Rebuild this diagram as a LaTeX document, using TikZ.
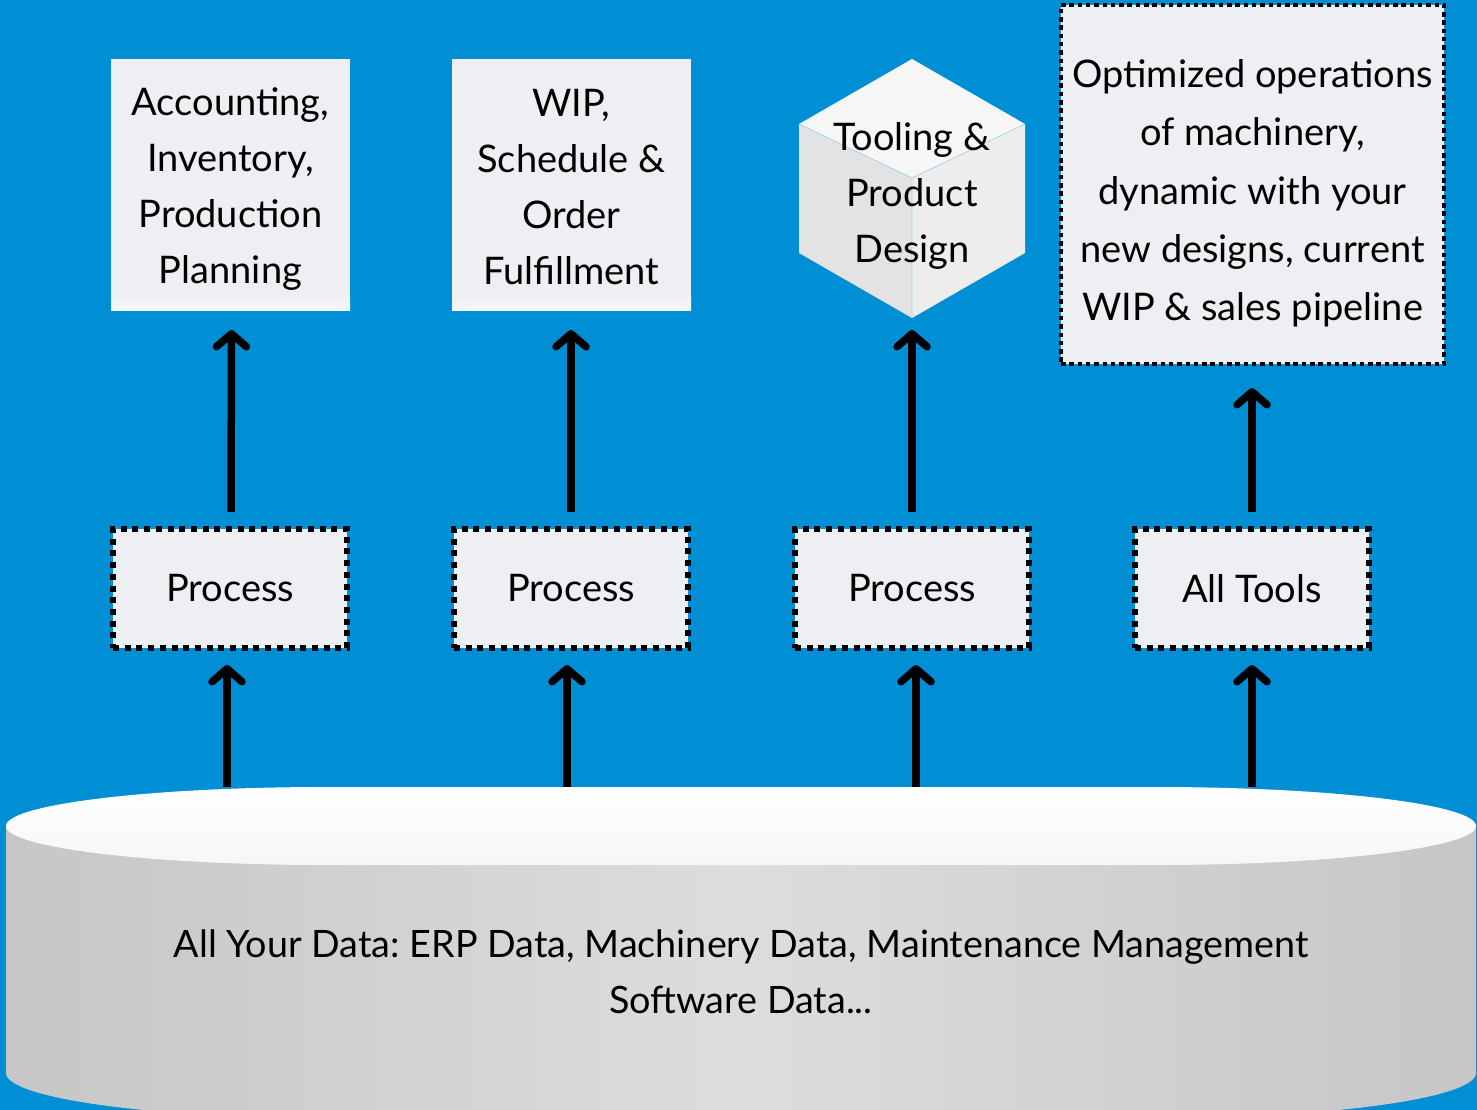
\documentclass[tikz,border=0pt]{standalone}
\usepackage{fontspec}
\setmainfont{Lato}
\usetikzlibrary{arrows.meta}
\frenchspacing
\definecolor{bluebg}{RGB}{0,142,213}
\definecolor{panel}{HTML}{EDEFF2}
\definecolor{panelfoot}{HTML}{F7F8F9}
\definecolor{cubetop}{HTML}{F6F6F6}
\definecolor{cubeleft}{HTML}{E3E3E3}
\definecolor{cuberight}{HTML}{EDEDED}
\definecolor{cubeedge}{HTML}{A6D6EF}
\definecolor{drumside}{HTML}{C6C6C6}
\definecolor{drummid}{HTML}{DDDDDD}
\definecolor{drumtop}{HTML}{F5F6F6}
\begin{document}
\begin{tikzpicture}[x=1pt,y=-1pt,
  bigtext/.style={font=\fontsize{38}{56}\selectfont, align=center, text=black},
  card/.style={fill=panel, inner sep=0pt, outer sep=0pt,
    minimum width=239pt, minimum height=251pt},
  procbox/.style={bigtext, fill=panel, draw=black, line width=6pt,
    dash pattern=on 6pt off 5.7pt, inner sep=0pt, outer sep=0pt,
    minimum width=234pt, minimum height=119pt},
  goalbox/.style={fill=panel, draw=black, line width=4.5pt,
    dash pattern=on 4.5pt off 3.8pt,
    inner sep=0pt, outer sep=0pt, minimum width=383pt, minimum height=359pt},
  arr/.style={line width=7.5pt, -{Straight Barb[round,length=13pt,width=30pt]}}
]
% canvas
\fill[bluebg] (0,0) rectangle (1477,1110);
\useasboundingbox (0,0) rectangle (1477,1110);

% data drum: side wall
\shade[left color=drumside, right color=drumside, middle color=drummid]
  (6,826) -- (6,1073)
  .. controls (6,1097.9) and (149.3,1118) .. (326,1118)
  -- (1156,1118)
  .. controls (1332.7,1118) and (1476,1097.9) .. (1476,1073)
  -- (1476,826) -- cycle;
% data drum: lid
\shade[top color=white, bottom color=drumtop]
  (6,826) .. controls (6,804.5) and (149.3,787) .. (326,787)
  -- (1156,787)
  .. controls (1332.7,787) and (1476,804.5) .. (1476,826)
  .. controls (1476,847.5) and (1332.7,865) .. (1156,865)
  -- (326,865)
  .. controls (149.3,865) and (6,847.5) .. (6,826) -- cycle;
\node[bigtext, font=\fontsize{37.7}{56}\selectfont] (data) at (741,972)
  {All Your Data: ERP Data, Machinery Data, Maintenance Management\\Software Data...};
\coordinate (d1) at (227,787);
\coordinate (d2) at (567,787);
\coordinate (d3) at (916,787);
\coordinate (d4) at (1252,787);

% process row
\node[procbox] (p1) at (230,588.5) {Process};
\node[procbox] (p2) at (571,588.5) {Process};
\node[procbox] (p3) at (912,588.5) {Process};
\node[procbox] (p4) at (1252,588.5) {All Tools};

% outcome row: plain cards with a soft lighter foot
\node[card] (b1) at (230.5,184.5) {};
\shade[top color=panel, bottom color=panelfoot]
  ([yshift=14pt]b1.south west) rectangle (b1.south east);
\node[bigtext] (b1text) at ([yshift=-5pt]b1.center)
  {Accounting,\\Inventory,\\Production\\Planning};
\node[card] (b2) at (571.5,184.5) {};
\shade[top color=panel, bottom color=panelfoot]
  ([yshift=14pt]b2.south west) rectangle (b2.south east);
\node[bigtext] (b2text) at ([yshift=-3pt]b2.center)
  {WIP,\\Schedule \&\\Order\\Fulfillment};

% cube
\coordinate (ct) at (912,59);
\coordinate (cul) at (799,124);
\coordinate (cur) at (1025,124);
\coordinate (cc) at (912,178);
\coordinate (cll) at (799,253);
\coordinate (clr) at (1025,253);
\coordinate (cb) at (912,318);
\fill[cubetop] (ct) -- (cur) -- (cc) -- (cul) -- cycle;
\fill[cubeleft] (cul) -- (cc) -- (cb) -- (cll) -- cycle;
\fill[cuberight] (cc) -- (cur) -- (clr) -- (cb) -- cycle;
\draw[cubeedge, line width=0.8pt] (cul) -- (cc) -- (cur) (cc) -- (cb);
\node[bigtext] (b3) at (912,196) {Tooling \&\\Product\\Design};

\node[goalbox] (b4) at (1252.5,184.5) {};
\node[bigtext, font=\fontsize{38}{58.25}\selectfont] (b4text)
  at ([yshift=-9pt]b4.center)
  {Optimized operations\\of machinery,\\dynamic with your\\new designs, current\\WIP \& sales pipeline};

% connectors
\draw[arr, shorten >=17pt] (d1) -- (d1 |- p1.south);
\draw[arr, shorten >=17pt] (d2) -- (d2 |- p2.south);
\draw[arr, shorten >=17pt] (d3) -- (d3 |- p3.south);
\draw[arr, shorten >=17pt] (d4) -- (d4 |- p4.south);
\draw[arr, shorten <=17pt, shorten >=20pt] ([xshift=1pt]p1.north) -- ([xshift=1pt]b1.south);
\draw[arr, shorten <=17pt, shorten >=20pt] (p2.north) -- (p2.north |- b2.south);
\draw[arr, shorten <=17pt, shorten >=12pt] (p3.north) -- (cb);
\draw[arr, shorten <=17pt, shorten >=24pt] (p4.north) -- (p4.north |- b4.south);
\end{tikzpicture}
\end{document}
